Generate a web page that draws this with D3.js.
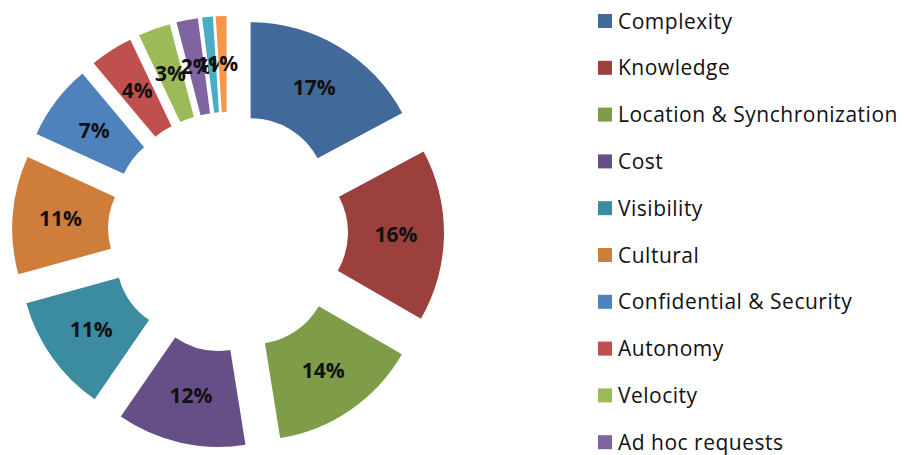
<!DOCTYPE html>
<html><head><meta charset="utf-8">
<script src="https://cdn.jsdelivr.net/npm/d3@7"></script>
<style>body{margin:0;background:#fff}svg{display:block}</style>
</head><body>
<svg id="chart" width="904" height="455"></svg>
<script>
const categories = ["Complexity","Knowledge","Location & Synchronization","Cost","Visibility","Cultural","Confidential & Security","Autonomy","Velocity","Ad hoc requests","Other A","Other B"];
const values = [17,16,14,12,11,11,7,4,3,2,1,1];
const colors = ["#41699A","#9C403D","#7F9C49","#664E86","#3B8CA0","#CE7E3A","#4F81BD","#C0504D","#9BBB59","#8064A2","#4BACC6","#F79646"];

const svg = d3.select("#chart");
const cx = 228, cy = 232, R = 172, r = 76, explode = 44;
const total = d3.sum(values);
const pie = d3.pie().sort(null).value(d => d)(values);
const arc = d3.arc().innerRadius(r).outerRadius(R);
const g = svg.append("g").attr("transform", `translate(${cx},${cy})`);

const slices = g.selectAll("g.slice").data(pie).join("g")
  .attr("transform", d => {
    const a = (d.startAngle + d.endAngle) / 2;
    return `translate(${explode*Math.sin(a)},${-explode*Math.cos(a)})`;
  });
slices.append("path").attr("d", arc).attr("fill", (d,i) => colors[i]);
slices.append("text")
  .attr("transform", d => `translate(${arc.centroid(d)})`)
  .attr("text-anchor", "middle").attr("dy", "0.35em")
  .attr("font-family", "'Open Sans', sans-serif").attr("font-weight", "bold")
  .attr("font-size", 21).attr("fill", "#111")
  .text(d => Math.round(d.value / total * 100) + "%");

const rowH = 46.8, legY = 21;
const visible = categories.map((c,i) => ({c, i})).filter(d => legY + d.i*rowH < 455);
const legend = svg.append("g").attr("transform", `translate(598,${legY})`);
const items = legend.selectAll("g").data(visible).join("g")
  .attr("transform", d => `translate(0,${d.i*rowH})`);
items.append("rect").attr("x", 0).attr("y", -7).attr("width", 14).attr("height", 14)
  .attr("fill", d => colors[d.i]);
items.append("text").attr("x", 20).attr("dy", "0.36em")
  .attr("font-family", "'Open Sans', sans-serif").attr("font-size", 21)
  .attr("letter-spacing", 0.5)
  .attr("fill", "#111").text(d => d.c);
</script>
</body></html>
